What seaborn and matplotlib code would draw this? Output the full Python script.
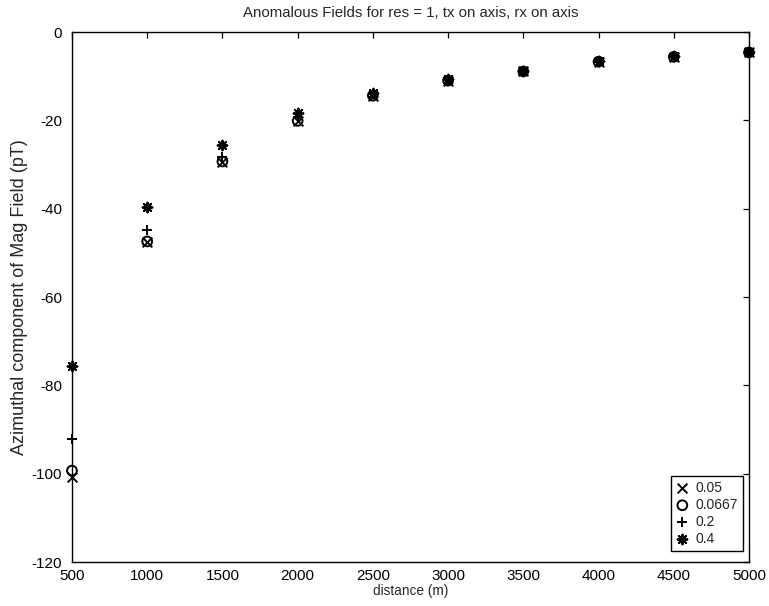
import matplotlib
matplotlib.use("Agg")
import matplotlib.pyplot as plt
import seaborn as sns
import pandas as pd

# Source-receiver distance (m)
distance = [500, 1000, 1500, 2000, 2500, 3000, 3500, 4000, 4500, 5000]

# Azimuthal anomalous magnetic field (pT) for each parameter value
field_005 = [-100.8, -47.6, -29.5, -20.1, -14.5, -11.0, -8.9, -6.7, -5.6, -4.6]
field_00667 = [-99.3, -47.4, -29.3, -20.1, -14.4, -11.0, -8.9, -6.7, -5.6, -4.6]
field_02 = [-92.2, -44.7, -28.2, -19.2, -14.1, -10.9, -8.8, -6.7, -5.6, -4.6]
field_04 = [-75.7, -39.5, -25.6, -18.3, -13.7, -10.7, -8.7, -6.6, -5.5, -4.5]

series_labels = ["0.05", "0.0667", "0.2", "0.4"]
series_values = [field_005, field_00667, field_02, field_04]
# the last marker is an eight-spoke asterisk
series_markers = ["x", "o", "+", (8, 2, 0)]

x_ticks = [500, 1000, 1500, 2000, 2500, 3000, 3500, 4000, 4500, 5000]
y_ticks = [0, -20, -40, -60, -80, -100, -120]

frames = []
for label, values in zip(series_labels, series_values):
    frames.append(pd.DataFrame({"distance": distance, "field": values, "series": label}))
data = pd.concat(frames, ignore_index=True)

sns.set_style("white")
plt.rcParams["font.family"] = ["Liberation Sans", "DejaVu Sans"]
plt.rcParams["axes.unicode_minus"] = False

fig = plt.figure(figsize=(7.69, 6.06), dpi=100)
ax = fig.add_axes([0.0936, 0.0726, 0.8804, 0.8744])

for label, marker in zip(series_labels, series_markers):
    subset = data[data["series"] == label]
    kwargs = dict(x="distance", y="field", data=subset, ax=ax, marker=marker,
                  s=49, linewidth=1.4, label=label, legend=False, zorder=3,
                  clip_on=False)
    if marker == "o":
        kwargs.update(facecolor="none", edgecolor="black")
    else:
        kwargs.update(color="black", edgecolor="black")
    sns.scatterplot(**kwargs)

handles = list(ax.collections)

ax.set_xlim(500, 5000)
ax.set_ylim(-120, 0)
ax.set_xticks(x_ticks)
ax.set_yticks(y_ticks)
ax.set_xticklabels([str(v) for v in x_ticks])
ax.set_yticklabels([str(v) for v in y_ticks])

for side in ["left", "right", "top", "bottom"]:
    ax.spines[side].set_visible(True)
    ax.spines[side].set_color("black")
    ax.spines[side].set_linewidth(1.0)

ax.tick_params(axis="both", which="major", direction="in", length=4, width=0.9,
               top=True, right=True, labelsize=11, colors="black")
ax.tick_params(axis="y", pad=7)
ax.tick_params(axis="x", pad=5)

ax.set_title("Anomalous Fields for res = 1, tx on axis, rx on axis",
             fontsize=10.8, pad=11)
ax.set_xlabel("distance (m)", fontsize=9.8, labelpad=1)
ax.set_ylabel("Azimuthal component of Mag Field (pT)", fontsize=13, labelpad=3)

leg = ax.legend(handles, series_labels, loc="lower right",
                bbox_to_anchor=(0.991, 0.021), borderaxespad=0,
                fontsize=10, frameon=True, fancybox=False, framealpha=1,
                edgecolor="black", handlelength=0.9, handletextpad=0.5,
                labelspacing=0.22, borderpad=0.35, scatterpoints=1)
leg.get_frame().set_linewidth(1.0)

fig.savefig("out.png", dpi=100)
